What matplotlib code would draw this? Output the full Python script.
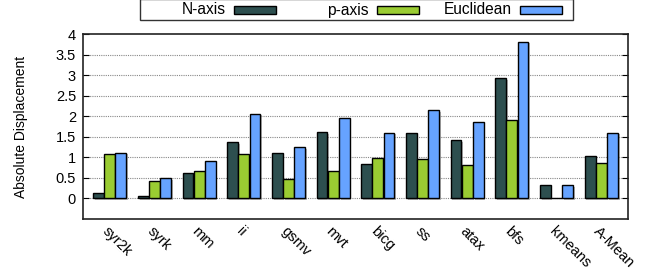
import numpy as np
import matplotlib.pyplot as plt
import matplotlib.patheffects as pe
from matplotlib.patches import Rectangle

plt.rcParams['font.family'] = ['Liberation Sans', 'DejaVu Sans']

benchmarks = ['syr2k', 'syrk', 'mm', 'ii', 'gsmv', 'mvt', 'bicg', 'ss', 'atax', 'bfs', 'kmeans', 'A-Mean']
n_axis = [0.13, 0.07, 0.63, 1.37, 1.10, 1.62, 0.85, 1.60, 1.41, 2.93, 0.33, 1.03]
p_axis = [1.08, 0.42, 0.66, 1.08, 0.47, 0.67, 0.98, 0.96, 0.82, 1.90, 0.00, 0.87]
euclid = [1.11, 0.50, 0.91, 2.06, 1.25, 1.96, 1.60, 2.14, 1.86, 3.81, 0.33, 1.60]

series = [('N-axis', n_axis, '#2d4f4f'),
          ('p-axis', p_axis, '#9acc32'),
          ('Euclidean', euclid, '#66a3ff')]

W, H = 657, 275
fig = plt.figure(figsize=(W / 100, H / 100), dpi=100)
ax = fig.add_axes([83 / W, 1 - 219 / H, 545 / W, 185 / H])

x = np.arange(len(benchmarks))
w = 0.245
shadow = [pe.SimplePatchShadow(offset=(1.2, -1.2), shadow_rgbFace='#888888', alpha=0.6), pe.Normal()]
for i, (name, vals, col) in enumerate(series):
    bars = ax.bar(x + (i - 1) * 0.25, vals, w, color=col, edgecolor='black', linewidth=1.0, zorder=3)
    for b in bars:
        b.set_path_effects(shadow)

ax.set_xlim(-0.6, 11.6)
ax.set_ylim(-0.5, 4)
ax.set_yticks(np.arange(0, 4.01, 0.5))
ax.set_yticklabels(['0', '0.5', '1', '1.5', '2', '2.5', '3', '3.5', '4'], fontsize=10.5)
for yv in np.arange(0, 3.6, 0.5):
    ax.axhline(yv, color='#888888', linestyle=(0, (1, 1)), linewidth=0.8, zorder=1)
ax.tick_params(axis='y', direction='in', right=True, length=4, width=0.8, pad=5)
ax.set_xticks(x)
ax.set_xticklabels(benchmarks, rotation=-45, ha='left', va='top', rotation_mode='anchor', fontsize=10.5)
ax.tick_params(axis='x', length=0, pad=4)
for s in ax.spines.values():
    s.set_linewidth(1.2)
    s.set_color('#222222')
ax.set_ylabel('Absolute Displacement', fontsize=10, labelpad=20)

# gnuplot-style legend: label right-aligned, sample box to its right
fig.patches.append(Rectangle((140 / W, 1 - 20 / H), 433 / W, 21 / H, transform=fig.transFigure,
                             facecolor='white', edgecolor='#333333', linewidth=1.0))
text_right = [226, 369, 512]
for (name, _, col), tr in zip(series, text_right):
    fig.text(tr / W, 1 - 10 / H, name, ha='right', va='center', fontsize=11.2)
    fig.patches.append(Rectangle(((tr + 8) / W, 1 - 14 / H), 42 / W, 8 / H, transform=fig.transFigure,
                                 facecolor=col, edgecolor='black', linewidth=1.0))

fig.savefig('out.png', dpi=100)
